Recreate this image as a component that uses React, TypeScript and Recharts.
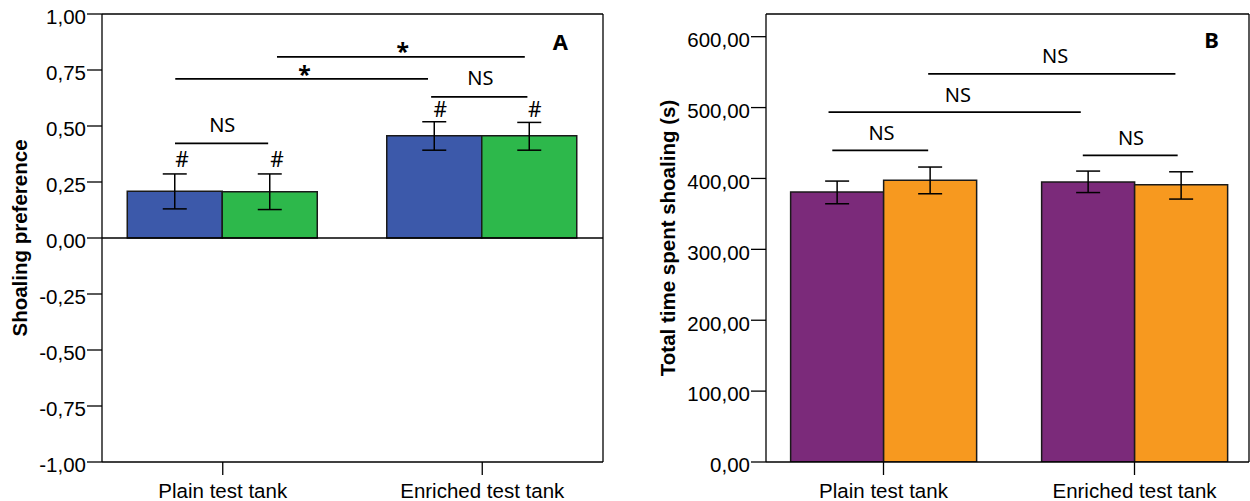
import React from 'react';
import { BarChart, Bar, XAxis, YAxis, ErrorBar, ReferenceLine, ReferenceDot } from 'recharts';

const categories = ['Plain test tank', 'Enriched test tank'];

// A: shoaling preference
const prefBlue = [0.209, 0.456];
const prefBlueErr = [[0.079, 0.077], [0.064, 0.063]];
const prefGreen = [0.206, 0.456];
const prefGreenErr = [[0.079, 0.08], [0.064, 0.06]];
const prefTicks = [-1, -0.75, -0.5, -0.25, 0, 0.25, 0.5, 0.75, 1];

// B: total time spent shoaling (s)
const timePurple = [380.8, 394.9];
const timePurpleErr = [[16.5, 15.5], [14.8, 15.5]];
const timeOrange = [397.3, 391.1];
const timeOrangeErr = [[18.9, 18.8], [20.2, 18.3]];
const timeTicks = [0, 100, 200, 300, 400, 500, 600];

// significance marks, x in category units (0..2 across both groups)
const prefBrackets = [
  { x1: 0.709, x2: 1.664, y: 0.809 },
  { x1: 0.317, x2: 1.291, y: 0.71 },
  { x1: 1.303, x2: 1.674, y: 0.63 },
  { x1: 0.316, x2: 0.675, y: 0.422 },
];
const prefMarks = [
  { x: 1.194, y: 0.796, text: '*' },
  { x: 0.815, y: 0.694, text: '*' },
  { x: 1.493, y: 0.683, text: 'NS' },
  { x: 0.498, y: 0.4725, text: 'NS' },
  { x: 0.343, y: 0.316, text: '#' },
  { x: 0.709, y: 0.316, text: '#' },
  { x: 1.338, y: 0.54, text: '#' },
  { x: 1.702, y: 0.54, text: '#' },
  { x: 1.801, y: 0.839, text: 'A' },
];
const timeBrackets = [
  { x1: 0.678, x2: 1.663, y: 547.4 },
  { x1: 0.281, x2: 1.286, y: 493.7 },
  { x1: 0.296, x2: 0.678, y: 439.6 },
  { x1: 1.294, x2: 1.672, y: 432.6 },
];
const timeMarks = [
  { x: 1.184, y: 562.9, text: 'NS' },
  { x: 0.796, y: 507.6, text: 'NS' },
  { x: 0.492, y: 454.2, text: 'NS' },
  { x: 1.486, y: 447.1, text: 'NS' },
  { x: 1.807, y: 584.5, text: 'B' },
];

const FONT = 'Liberation Sans, Arial, sans-serif';
const ANN_FONT = 'Noto Sans, sans-serif';
const fmt = (v: number) => v.toFixed(2).replace('.', ',');
// the helper axis runs 0..1 over the padded band range
const toAnn = (x: number) => x / categories.length;

const markShape = (text: string) => (p: any) => {
  const panel = text === 'A' || text === 'B';
  const bold = text === '*' || panel;
  return (
    <text
      x={p.cx}
      y={p.cy}
      textAnchor="middle"
      fontFamily={ANN_FONT}
      fontSize={panel ? 22 : text === '*' ? 23 : text === '#' ? 21 : 20}
      fontWeight={bold ? 'bold' : 'normal'}
      fill="#000"
    >
      {text}
    </text>
  );
};

function Panel(props: any) {
  const {
    width, yAxisWidth, data, colors, domain, ticks, padding, gap,
    brackets, marks, title, titleX, zeroLine,
  } = props;
  return (
    <BarChart
      width={width}
      height={501}
      data={data}
      margin={{ top: 14, right: props.right, bottom: 0, left: 0 }}
      barCategoryGap={gap}
      barGap={0}
    >
      <XAxis
        dataKey="cat"
        interval={0}
        padding={padding}
        height={39}
        tickSize={13}
        tickMargin={8}
        tick={{ fill: '#000', fontSize: 20.5, fontFamily: FONT }}
        axisLine={{ stroke: '#000', strokeWidth: 1.3 }}
        tickLine={{ stroke: '#000', strokeWidth: 1.3 }}
      />
      <XAxis xAxisId="ann" type="number" domain={[0, 1]} padding={padding} allowDataOverflow hide />
      <YAxis
        type="number"
        width={yAxisWidth}
        domain={domain}
        ticks={ticks}
        interval={0}
        allowDataOverflow
        tickFormatter={fmt}
        tickSize={15}
        tickMargin={1}
        tick={{ fill: '#000', fontSize: 20.5, fontFamily: FONT, dy: 3 }}
        axisLine={{ stroke: '#000', strokeWidth: 1.3 }}
        tickLine={{ stroke: '#000', strokeWidth: 1.3 }}
        label={(lp: any) => {
          const vb = lp.viewBox || {};
          const cy = vb.y + vb.height / 2;
          return (
            <text
              x={titleX}
              y={cy}
              transform={`rotate(-90, ${titleX}, ${cy})`}
              textAnchor="middle"
              fontFamily={FONT}
              fontWeight="bold"
              fontSize={20.5}
              fill="#000"
            >
              {title}
            </text>
          );
        }}
      />
      <YAxis
        yAxisId="r"
        orientation="right"
        type="number"
        width={1}
        domain={domain}
        allowDataOverflow
        tick={false}
        tickLine={false}
        axisLine={{ stroke: '#000', strokeWidth: 1.3 }}
      />
      <ReferenceLine y={domain[1]} stroke="#000" strokeWidth={1.3} />
      {zeroLine && <ReferenceLine y={0} stroke="#000" strokeWidth={1.3} />}
      <Bar dataKey="s1" fill={colors[0]} stroke="#1a1a1a" strokeWidth={1.5} isAnimationActive={false}>
        <ErrorBar dataKey="s1Err" width={12} stroke="#000" strokeWidth={1.5} />
      </Bar>
      <Bar dataKey="s2" fill={colors[1]} stroke="#1a1a1a" strokeWidth={1.5} isAnimationActive={false}>
        <ErrorBar dataKey="s2Err" width={12} stroke="#000" strokeWidth={1.5} />
      </Bar>
      {brackets.map((b: any, i: number) => (
        <ReferenceLine
          key={`b${i}`}
          xAxisId="ann"
          segment={[{ x: toAnn(b.x1), y: b.y }, { x: toAnn(b.x2), y: b.y }]}
          stroke="#000"
          strokeWidth={1.8}
          ifOverflow="visible"
        />
      ))}
      {marks.map((m: any, i: number) => (
        <ReferenceDot
          key={`m${i}`}
          xAxisId="ann"
          x={toAnn(m.x)}
          y={m.y}
          r={1}
          ifOverflow="visible"
          shape={markShape(m.text)}
        />
      ))}
    </BarChart>
  );
}

export default function App() {
  const prefData = categories.map((cat, i) => ({
    cat,
    s1: prefBlue[i],
    s1Err: prefBlueErr[i],
    s2: prefGreen[i],
    s2Err: prefGreenErr[i],
  }));
  const timeData = categories.map((cat, i) => ({
    cat,
    s1: timePurple[i],
    s1Err: timePurpleErr[i],
    s2: timeOrange[i],
    s2Err: timeOrangeErr[i],
  }));

  return (
    <div style={{ position: 'absolute', left: 0, top: 0, width: 1250, height: 501, background: '#fff' }}>
      <div style={{ position: 'absolute', left: 0, top: 0 }}>
        <Panel
          width={606}
          right={2}
          yAxisWidth={102}
          data={prefData}
          colors={['#3C59AA', '#2DB84B']}
          domain={[-1, 1]}
          ticks={prefTicks}
          padding={{ left: -9, right: -9 }}
          gap="13.2%"
          brackets={prefBrackets}
          marks={prefMarks}
          title="Shoaling preference"
          titleX={27}
          zeroLine
        />
      </div>
      <div style={{ position: 'absolute', left: 630, top: 0 }}>
        <Panel
          width={620}
          right={0}
          yAxisWidth={136}
          data={timeData}
          colors={['#7B2A7A', '#F7991F']}
          domain={[0, 632]}
          ticks={timeTicks}
          padding={{ left: -8, right: -11 }}
          gap="13%"
          brackets={timeBrackets}
          marks={timeMarks}
          title="Total time spent shoaling (s)"
          titleX={45}
        />
      </div>
    </div>
  );
}
